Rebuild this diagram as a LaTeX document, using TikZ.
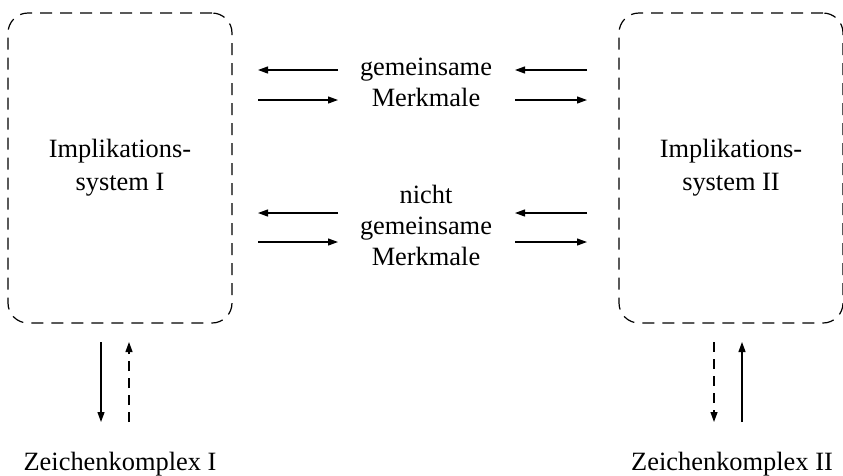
\documentclass[tikz,border=0pt]{standalone}
\usepackage{fontspec}
\setmainfont{Liberation Serif}
\usetikzlibrary{arrows.meta}
\begin{document}
\begin{tikzpicture}[x=1pt,y=-1pt,
  sysbox/.style={draw, dash pattern=on 12pt off 8pt, rounded corners=20pt, line width=1.2pt,
    minimum width=224pt, minimum height=310pt, align=center,
    font=\fontsize{26.4}{33}\selectfont, inner sep=0pt},
  lbl/.style={align=center, font=\fontsize{26.4}{31}\selectfont, inner sep=0pt},
  arr/.style={line width=1.2pt, -{Triangle[length=10pt,width=7pt]}},
  darr/.style={arr, dash pattern=on 10pt off 7pt}]
\useasboundingbox (0,0) rectangle (843,475);
\node[sysbox] (s1) at (120,168) {Implikations-\\system I};
\node[sysbox] (s2) at (731,168) {Implikations-\\system II};
\node[lbl] (m1) at (426,82.5) {gemeinsame\\Merkmale};
\node[lbl] (m2) at (426,225) {nicht\\gemeinsame\\Merkmale};
\node[lbl, anchor=base] (z1) at (120,470) {Zeichenkomplex I};
\node[lbl, anchor=base] (z2) at (732,470) {Zeichenkomplex II};
% horizontal arrow endpoints
\coordinate (la1) at (258,70);  \coordinate (lb1) at (338,70);
\coordinate (la2) at (258,100); \coordinate (lb2) at (338,100);
\coordinate (la3) at (258,213); \coordinate (lb3) at (338,213);
\coordinate (la4) at (258,242); \coordinate (lb4) at (338,242);
\coordinate (ra1) at (515,70);  \coordinate (rb1) at (587,70);
\coordinate (ra2) at (515,100); \coordinate (rb2) at (587,100);
\coordinate (ra3) at (515,213); \coordinate (rb3) at (587,213);
\coordinate (ra4) at (515,242); \coordinate (rb4) at (587,242);
\draw[arr] (lb1) -- (la1);
\draw[arr] (la2) -- (lb2);
\draw[arr] (lb3) -- (la3);
\draw[arr] (la4) -- (lb4);
\draw[arr] (rb1) -- (ra1);
\draw[arr] (ra2) -- (rb2);
\draw[arr] (rb3) -- (ra3);
\draw[arr] (ra4) -- (rb4);
% vertical arrows
\coordinate (v1t) at (101,342); \coordinate (v1b) at (101,422);
\coordinate (v2t) at (129,342); \coordinate (v2b) at (129,422);
\coordinate (v3t) at (714,342); \coordinate (v3b) at (714,422);
\coordinate (v4t) at (742,342); \coordinate (v4b) at (742,422);
\draw[arr] (v1t) -- (v1b);
\draw[darr] (v2b) -- (v2t);
\draw[darr] (v3t) -- (v3b);
\draw[arr] (v4b) -- (v4t);
\end{tikzpicture}
\end{document}
